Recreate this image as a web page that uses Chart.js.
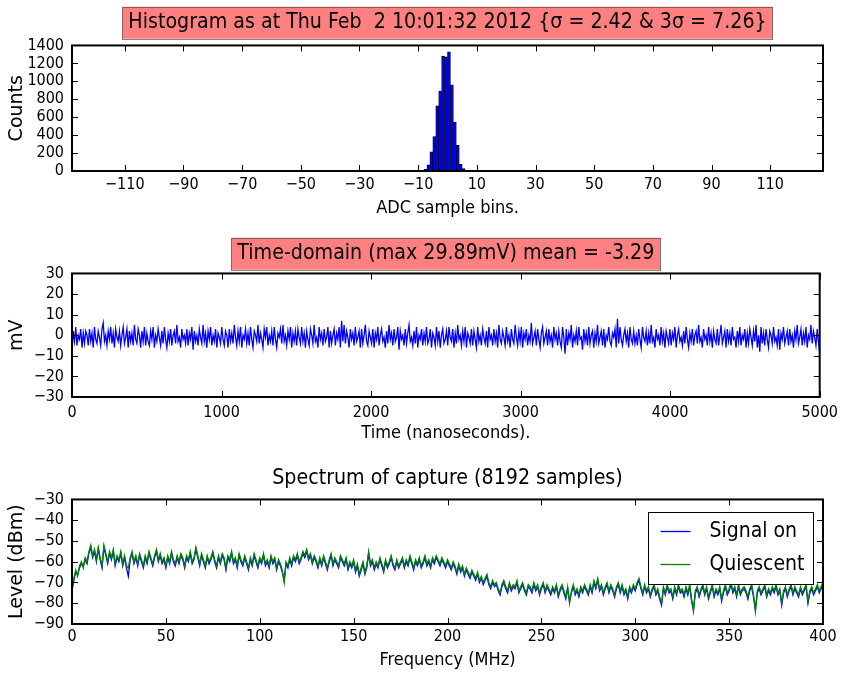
<!DOCTYPE html>
<html>
<head>
<meta charset="utf-8">
<script src="https://cdn.jsdelivr.net/npm/chart.js@4.4.1/dist/chart.umd.min.js"></script>
<style>
  body { margin: 0; background: #fff; }
  canvas.plot { position: absolute; left: 0; }
</style>
</head>
<body>
<canvas id="hist" class="plot" width="844" height="225" style="top:0px"></canvas>
<canvas id="time" class="plot" width="844" height="225" style="top:225px"></canvas>
<canvas id="spec" class="plot" width="844" height="224" style="top:450px"></canvas>
<script>
// ADC histogram (bin centres and counts)
const histCenters = [-7.5, -6.5, -5.5, -4.5, -3.5, -2.5, -1.5, -0.5, 0.5, 1.5, 2.5, 3.5, 4.5, 5.5];
const histCounts = [19, 68, 215, 384, 726, 892, 1280, 1272, 1328, 960, 542, 285, 75, 26];
const histXTicks = [-110, -90, -70, -50, -30, -10, 10, 30, 50, 70, 90, 110];
const histYTicks = [0, 200, 400, 600, 800, 1000, 1200, 1400];

// time-domain capture in mV, evenly spaced over 0..5000 ns
const timeSamples = [
  -8, 2, -3, 4, -5, 0, -2, 3, -6, 1, -4, 2, 0, -5, 3, -3, 1, -6, 4, -2, -4, 2, -1, -5, 3, 6, -3, 0, -5, 2,
  -2, 4, -4, 1, -6, 3, -1, -3, 2, -5, 0, 4, -4, -1, 3, -6, 2, -3, 1, -5, 5, -2, -4, 3, 0, -6, 2, -3, 4, -5,
  1, -3, -5, 2, -2, 4, -6, 0, -3, 3, -1, -5, 2, -4, 4, -2, -6, 1, -3, 3, -5, 0, 2, -4, 5, -3, -1, -6, 3, -2,
  0, -4, 3, -5, 1, -2, 4, -7, 2, -3, 0, -5, 3, -1, -4, 5, -3, 1, -6, 2, -2, 4, -5, 0, -3, 3, -6, 1, -1, -4,
  4, -2, -5, 2, 0, -6, 3, -3, 1, -4, 5, -1, -5, 2, -3, 4, -6, 0, -2, 3, -4, 1, -5, 4, -2, -6, 2, 0, -3, 5,
  -4, 1, -2, -6, 3, -1, 4, -5, 0, -3, 2, -5, 4, -2, -6, 1, -1, 3, -4, 5, -3, 0, -5, 2, -2, 4, -6, 1, -3, 2,
  -5, 3, -1, -4, 4, -3, 1, -6, 2, -2, -5, 3, 0, -4, 5, -3, -1, -6, 4, -2, 1, -5, 3, -3, -1, 4, -6, 2, -4, 0,
  3, -5, 1, -2, 4, -6, 7, -3, 5, -4, 2, -1, -6, 3, -2, 1, -5, 4, -3, -1, 2, -6, 3, -4, 0, 5, -3, -5, 2, -1,
  -4, 3, -6, 1, -2, 4, -5, 0, 3, -3, -1, -6, 2, -4, 5, -2, 1, -5, 3, -3, -1, 4, -7, 2, -2, 0, -5, 3, -4, 1,
  5, -3, -1, -5, 2, -4, 4, -6, 0, -2, 3, -5, 1, -3, 4, -4, -2, 3, -6, 1, -1, -5, 4, -3, 2, -6, 0, 3, -4, -2,
  2, -5, 4, -1, -3, 3, -6, 1, -4, 5, -2, 0, -5, 2, -3, 4, -6, 1, -1, -4, 3, -5, 2, -2, -6, 4, -3, 0, -5, 3,
  -1, -4, 2, -6, 4, -2, 0, -5, 3, -3, 1, -6, 5, -2, -4, 2, -1, -5, 4, -3, 0, -6, 3, -2, -4, 5, -1, -5, 2, -3,
  4, -6, 1, -2, 3, -5, 0, -3, 6, -4, -1, 2, -5, 3, -2, -6, 1, 4, -4, -1, 2, -5, 3, -3, 0, -6, 4, -2, 1, -5,
  2, -3, -6, 4, -1, -9, 3, -5, 1, -2, 5, -6, 0, -3, 2, -5, 4, -2, -1, -7, 3, -3, 1, -5, 4, -4, 0, 2, -6, 1,
  -3, 5, -4, -1, 2, -5, 3, -6, 0, -2, 4, -3, -5, 1, -1, 3, -6, 8, -4, 4, -2, -5, 0, 3, -3, 1, -6, 4, -2, -4,
  2, -4, 0, -5, 3, -2, -6, 4, -1, -3, 2, -5, 1, -4, 5, -3, -1, -6, 3, -2, 0, -5, 4, -3, 1, -6, 2, -1, -4, 3,
  -5, 1, -2, 4, -6, 0, 3, -3, -1, -5, 2, -4, 4, -2, -6, 1, -3, 3, -5, 0, 2, -4, 5, -3, -1, -6, 3, -2, 0, -5,
  4, -3, 1, -6, 2, -2, -4, 3, -5, 0, 5, -4, -1, 2, -6, 3, -3, 1, -5, 4, -2, -1, -6, 2, -3, 4, -5, 0, -2, 3,
  -6, 1, -4, 3, -1, -5, 2, -3, 5, -6, 0, -8, 4, -4, 1, -5, 3, -2, -6, 2, 0, -4, 4, -3, -1, -5, 3, -7, 1, -2,
  4, -4, -1, 2, -5, 3, -3, 0, -6, 2, -2, 5, -4, -1, 3, -5, 1, -3, 4, -6, 0, -2, 5, -4, 2, -1, -5, 3, -3, -9
];
const timeSpan = 5000;
const timeXTicks = [0, 1000, 2000, 3000, 4000, 5000];
const timeYTicks = [-30, -20, -10, 0, 10, 20, 30];

// spectrum in dBm, one bin per MHz from 0 to 400
const specFreqStep = 1;
const signalOn = [
  -74, -69, -65, -66, -63, -61, -62, -59, -61, -56, -53, -58, -55, -60, -54, -59, -63, -53, -57, -61, -56, -59, -55, -62, -58,
  -60, -56, -62, -58, -63, -67, -59, -56, -61, -58, -62, -57, -60, -63, -58, -61, -56, -59, -62, -58, -55, -60, -57, -61, -59,
  -63, -58, -61, -56, -60, -62, -58, -61, -57, -59, -63, -58, -60, -56, -61, -59, -54, -58, -62, -57, -60, -63, -58, -61, -59,
  -56, -60, -63, -58, -61, -57, -59, -64, -58, -60, -56, -61, -59, -63, -57, -60, -62, -58, -61, -64, -59, -62, -57, -60, -63,
  -59, -61, -57, -62, -60, -63, -58, -61, -59, -64, -60, -62, -65, -69, -61, -63, -59, -62, -58, -60, -57, -61, -59, -56, -58,
  -55, -59, -57, -61, -58, -60, -63, -59, -62, -58, -61, -64, -60, -57, -62, -59, -61, -63, -58, -60, -62, -59, -64, -61, -63,
  -60, -65, -62, -67, -64, -61, -66, -63, -56, -62, -60, -64, -61, -63, -59, -62, -65, -60, -63, -61, -58, -62, -64, -60, -63,
  -61, -59, -63, -60, -62, -58, -61, -64, -60, -62, -59, -63, -61, -58, -62, -60, -63, -59, -61, -58, -60, -62, -59, -61, -63,
  -60, -62, -64, -61, -63, -66, -62, -65, -63, -67, -64, -66, -68, -65, -67, -69, -66, -70, -68, -71, -69, -67, -71, -73, -70,
  -72, -71, -74, -76, -72, -70, -73, -75, -71, -74, -72, -73, -70, -75, -73, -71, -74, -76, -72, -73, -75, -71, -74, -72, -76,
  -73, -71, -75, -72, -74, -76, -73, -75, -72, -77, -74, -72, -75, -78, -73, -79, -75, -72, -76, -74, -77, -73, -75, -72, -74,
  -76, -72, -75, -70, -73, -69, -74, -72, -76, -73, -71, -75, -72, -74, -77, -73, -71, -75, -72, -76, -74, -78, -73, -75, -72,
  -74, -71, -69, -73, -76, -72, -75, -73, -77, -74, -72, -76, -74, -78, -81, -73, -76, -72, -75, -74, -78, -73, -76, -72, -75,
  -74, -77, -73, -76, -72, -79, -83, -75, -73, -77, -74, -72, -76, -73, -78, -75, -72, -77, -74, -76, -73, -79, -75, -72, -76,
  -74, -71, -75, -73, -77, -72, -76, -74, -73, -75, -78, -74, -72, -77, -83, -75, -73, -76, -74, -72, -77, -74, -76, -73, -75,
  -72, -76, -74, -81, -75, -73, -77, -74, -72, -76, -73, -75, -77, -73, -76, -74, -72, -80, -75, -73, -76, -74, -72, -75, -73,
  -71
];
const quiescent = [
  -73, -68, -64, -67, -62, -60, -63, -58, -60, -55, -52, -57, -54, -59, -53, -58, -62, -52, -56, -60, -55, -58, -54, -61, -57,
  -59, -55, -61, -57, -62, -63, -58, -55, -60, -57, -61, -56, -59, -62, -57, -60, -55, -58, -61, -57, -54, -59, -56, -60, -58,
  -62, -57, -60, -55, -59, -61, -57, -60, -56, -58, -62, -57, -59, -55, -60, -58, -53, -57, -61, -56, -59, -62, -57, -60, -58,
  -55, -59, -62, -57, -60, -56, -58, -63, -57, -59, -55, -60, -58, -62, -56, -59, -61, -57, -60, -63, -58, -61, -56, -59, -62,
  -58, -60, -56, -61, -59, -62, -57, -60, -58, -63, -59, -61, -64, -70, -60, -62, -58, -61, -57, -59, -56, -60, -58, -55, -57,
  -54, -58, -56, -60, -57, -59, -62, -58, -61, -57, -60, -63, -59, -56, -61, -58, -60, -62, -57, -59, -61, -58, -63, -60, -62,
  -59, -64, -61, -66, -63, -60, -65, -62, -55, -61, -59, -63, -60, -62, -58, -61, -64, -59, -62, -60, -57, -61, -63, -59, -62,
  -60, -58, -62, -59, -61, -57, -60, -63, -59, -61, -58, -62, -60, -57, -61, -59, -62, -58, -60, -57, -59, -61, -58, -60, -62,
  -59, -61, -63, -60, -62, -65, -61, -64, -62, -66, -63, -65, -67, -64, -66, -68, -65, -69, -67, -70, -68, -66, -70, -72, -69,
  -71, -70, -73, -75, -71, -69, -72, -74, -70, -73, -71, -72, -69, -74, -72, -70, -73, -75, -71, -72, -74, -70, -73, -71, -75,
  -72, -70, -74, -71, -73, -75, -72, -74, -71, -76, -73, -71, -74, -77, -72, -80, -74, -71, -75, -73, -76, -72, -74, -71, -73,
  -75, -71, -74, -69, -72, -68, -73, -71, -75, -72, -70, -74, -71, -73, -76, -72, -70, -74, -71, -75, -73, -77, -72, -74, -71,
  -73, -70, -68, -72, -75, -71, -74, -72, -76, -73, -71, -75, -73, -77, -80, -72, -75, -71, -74, -73, -77, -72, -75, -71, -74,
  -73, -76, -72, -75, -71, -78, -84, -74, -72, -76, -73, -71, -75, -72, -77, -74, -71, -76, -73, -75, -72, -78, -74, -71, -75,
  -73, -70, -74, -72, -76, -71, -75, -73, -72, -74, -77, -73, -71, -76, -84, -74, -72, -75, -73, -71, -76, -73, -75, -72, -74,
  -71, -75, -73, -80, -74, -72, -76, -73, -71, -75, -72, -74, -76, -72, -75, -73, -71, -79, -74, -72, -75, -73, -71, -74, -72,
  -70
];
const specXTicks = [0, 50, 100, 150, 200, 250, 300, 350, 400];
const specYTicks = [-90, -80, -70, -60, -50, -40, -30];

const FONT = "'DejaVu Sans Condensed', 'DejaVu Sans', sans-serif";
const FONT_PLAIN = "'DejaVu Sans', sans-serif";

// matplotlib-style minus sign
function fmtTick(v) {
  return v < 0 ? '\u2212' + Math.abs(v) : String(v);
}

// frame round the plot area plus inward ticks on all four sides
const framePlugin = {
  id: 'frame',
  afterDatasetsDraw(chart) {
    const { ctx, chartArea: a, scales } = chart;
    ctx.save();
    ctx.strokeStyle = '#000';
    ctx.lineWidth = 1;
    ctx.beginPath();
    scales.x.ticks.forEach(t => {
      const px = Math.round(scales.x.getPixelForValue(t.value)) + 0.5;
      ctx.moveTo(px, a.bottom); ctx.lineTo(px, a.bottom - 6);
      ctx.moveTo(px, a.top); ctx.lineTo(px, a.top + 6);
    });
    scales.y.ticks.forEach(t => {
      const py = Math.round(scales.y.getPixelForValue(t.value)) + 0.5;
      ctx.moveTo(a.left, py); ctx.lineTo(a.left + 6, py);
      ctx.moveTo(a.right, py); ctx.lineTo(a.right - 6, py);
    });
    ctx.stroke();
    ctx.lineWidth = 2;
    ctx.strokeRect(a.left, a.top, a.right - a.left, a.bottom - a.top);
    ctx.restore();
  }
};

// pink box behind the title text
const titleBoxPlugin = {
  id: 'titleBox',
  beforeDraw(chart, args, opts) {
    if (!opts.color) return;
    const t = chart.titleBlock;
    const tOpts = chart.options.plugins.title;
    const font = Chart.helpers.toFont(tOpts.font);
    const pad = Chart.helpers.toPadding(tOpts.padding);
    const ctx = chart.ctx;
    ctx.save();
    ctx.font = font.string;
    const w = ctx.measureText(tOpts.text).width;
    const cx = (t.left + t.right) / 2;
    const cy = t.top + pad.top + font.lineHeight / 2;
    const bw = w + 12, bh = 32;
    ctx.fillStyle = opts.color;
    ctx.fillRect(cx - bw / 2, cy - bh / 2, bw, bh);
    ctx.strokeStyle = 'rgba(90, 70, 70, 0.7)';
    ctx.lineWidth = 1;
    ctx.strokeRect(Math.round(cx - bw / 2) + 0.5, Math.round(cy - bh / 2) + 0.5, Math.round(bw), bh);
    ctx.restore();
  }
};

// boxed legend in the upper right corner of the plot area
const boxLegendPlugin = {
  id: 'boxLegend',
  afterDraw(chart) {
    const { ctx, chartArea: a } = chart;
    const w = 165, h = 72;
    const x = Math.round(a.right - 10 - w) + 0.5, y = Math.round(a.top + 13) + 0.5;
    ctx.save();
    ctx.fillStyle = '#fff';
    ctx.fillRect(x, y, w, h);
    ctx.strokeStyle = '#000';
    ctx.lineWidth = 1;
    ctx.strokeRect(x, y, w, h);
    ctx.font = '21px ' + FONT;
    ctx.textBaseline = 'middle';
    chart.data.datasets.forEach((ds, i) => {
      const ly = y + 19 + i * 33;
      ctx.strokeStyle = ds.borderColor;
      ctx.lineWidth = 1.3;
      ctx.beginPath();
      ctx.moveTo(x + 12, ly); ctx.lineTo(x + 42, ly);
      ctx.stroke();
      ctx.fillStyle = '#000';
      ctx.fillText(ds.label, x + 61, ly);
    });
    ctx.restore();
  }
};

function xAxis(min, max, ticks, label, height, tickPad, titlePad) {
  return {
    type: 'linear', min: min, max: max, offset: false,
    grid: { display: false, drawTicks: false },
    border: { display: false },
    afterBuildTicks: s => { s.ticks = ticks.map(v => ({ value: v })); },
    afterFit: s => { s.height = height; },
    ticks: { autoSkip: false, maxRotation: 0, padding: tickPad, color: '#000',
             font: { size: 16, family: FONT }, callback: fmtTick },
    title: { display: true, text: label, color: '#000', padding: { top: 0, bottom: titlePad },
             font: { size: 18, family: FONT } }
  };
}

function yAxis(min, max, ticks, label) {
  return {
    min: min, max: max,
    grid: { display: false, drawTicks: false },
    border: { display: false },
    afterBuildTicks: s => { s.ticks = ticks.map(v => ({ value: v })); },
    afterFit: s => { s.width = 72; },
    ticks: { autoSkip: false, padding: 8, color: '#000',
             font: { size: 16, family: FONT }, callback: fmtTick },
    title: { display: true, text: label, color: '#000', padding: { top: 6, bottom: 0 },
             font: { size: 19, family: FONT_PLAIN } }
  };
}

function titleOpts(text, padTop, padBottom) {
  return {
    display: true, text: text, fullSize: false, color: '#000',
    font: { size: 21.2, family: FONT, weight: 'normal' },
    padding: { top: padTop, bottom: padBottom }
  };
}

const common = {
  responsive: false,
  animation: false,
  layout: { padding: { left: 0, right: 21, top: 0, bottom: 0 } }
};

// histogram
new Chart(document.getElementById('hist'), {
  type: 'bar',
  data: {
    datasets: [{
      data: histCenters.map((c, i) => ({ x: c, y: histCounts[i] })),
      backgroundColor: '#0000f0',
      borderColor: '#000',
      borderWidth: 0.8,
      barPercentage: 1,
      categoryPercentage: 1
    }]
  },
  options: Object.assign({}, common, {
    scales: {
      x: xAxis(-128, 128, histXTicks, 'ADC sample bins.', 54, 4, 6),
      y: yAxis(0, 1400, histYTicks, 'Counts')
    },
    plugins: {
      legend: { display: false },
      tooltip: { enabled: false },
      title: titleOpts('Histogram as at Thu Feb  2 10:01:32 2012 {\u03c3 = 2.42 & 3\u03c3 = 7.26}', 10, 10),
      titleBox: { color: '#ff8080' }
    }
  }),
  plugins: [titleBoxPlugin, framePlugin]
});

// time domain
const timeStep = timeSpan / (timeSamples.length - 1);
new Chart(document.getElementById('time'), {
  type: 'line',
  data: {
    datasets: [{
      data: timeSamples.map((v, i) => ({ x: i * timeStep, y: v })),
      borderColor: '#0000ff',
      borderWidth: 1.3,
      pointRadius: 0,
      tension: 0
    }]
  },
  options: Object.assign({}, common, {
    scales: {
      x: xAxis(0, timeSpan, timeXTicks, 'Time (nanoseconds).', 53, 6, 6),
      y: yAxis(-30, 30, timeYTicks, 'mV')
    },
    plugins: {
      legend: { display: false },
      tooltip: { enabled: false },
      title: titleOpts('Time-domain (max 29.89mV) mean = -3.29', 16, 7),
      titleBox: { color: '#ff8080' }
    }
  }),
  plugins: [titleBoxPlugin, framePlugin]
});

// spectrum
new Chart(document.getElementById('spec'), {
  type: 'line',
  data: {
    datasets: [{
      label: 'Signal on',
      data: signalOn.map((v, i) => ({ x: i * specFreqStep, y: v })),
      borderColor: '#0000ff',
      borderWidth: 1.3,
      pointRadius: 0,
      order: 1
    }, {
      label: 'Quiescent',
      data: quiescent.map((v, i) => ({ x: i * specFreqStep, y: v })),
      borderColor: '#008000',
      borderWidth: 1.3,
      pointRadius: 0,
      order: 0
    }]
  },
  options: Object.assign({}, common, {
    scales: {
      x: xAxis(0, 400, specXTicks, 'Frequency (MHz)', 50, 3, 3),
      y: yAxis(-90, -30, specYTicks, 'Level (dBm)')
    },
    plugins: {
      legend: { display: false },
      tooltip: { enabled: false },
      title: titleOpts('Spectrum of capture (8192 samples)', 16, 8)
    }
  }),
  plugins: [framePlugin, boxLegendPlugin]
});
</script>
</body>
</html>
